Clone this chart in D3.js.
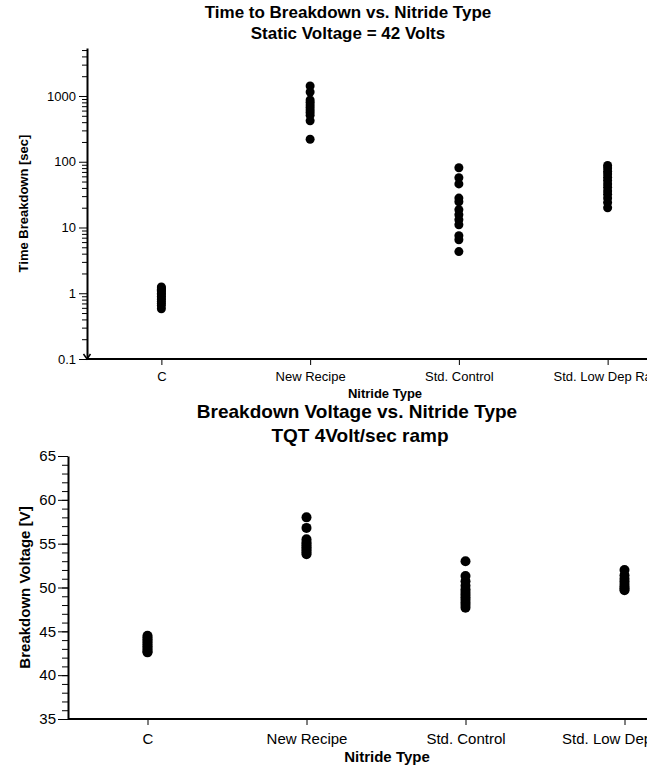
<!DOCTYPE html>
<html>
<head>
<meta charset="utf-8">
<script src="https://cdn.jsdelivr.net/npm/d3@7"></script>
<style>
    body { margin: 0; background: #fff; }
    svg { display: block; overflow: hidden; }
    text { font-family: "Liberation Sans", Arial, sans-serif; fill: #000; }
    .axis path { stroke: #000; stroke-width: 2; }
    .axis line { stroke: #000; stroke-width: 1; }
</style>
</head>
<body>
<div id="chart"></div>
<script>
// ── Data ──
const categories = ["C", "New Recipe", "Std. Control", "Std. Low Dep Rate"];

// Time to breakdown [sec], static 42 V
const timeC = [1.25, 1.2, 1.15, 1.1, 1.05, 1.0, 0.95, 0.9, 0.85, 0.8, 0.75, 0.7, 0.65, 0.58];
const timeNewRecipe = [1420, 1150, 870, 800, 730, 670, 610, 560, 510, 420, 220];
const timeStdControl = [81, 57, 46, 28, 24.6, 18.6, 15.6, 13.1, 11, 7.5, 6.5, 4.3];
const timeStdLowDep = [88, 80, 72, 65, 58, 52, 46, 41, 36, 32, 28, 24, 20];

// Breakdown voltage [V], TQT 4 V/sec ramp
const voltC = [44.5, 44.3, 44.1, 43.9, 43.7, 43.5, 43.3, 43.1, 42.9, 42.7, 42.6];
const voltNewRecipe = [58.0, 56.8, 55.5, 55.2, 55.0, 54.8, 54.6, 54.4, 54.2, 54.0, 53.8];
const voltStdControl = [53.0, 51.3, 50.7, 50.2, 49.8, 49.5, 49.2, 48.9, 48.6, 48.3, 48.0, 47.7];
const voltStdLowDep = [52.0, 51.4, 51.0, 50.7, 50.4, 50.1, 49.9, 49.7];

const timeMajorTicks = [0.1, 1, 10, 100, 1000];
const voltMajorTicks = [35, 40, 45, 50, 55, 60, 65];

const WIDTH = 647;
const HEIGHT = 765;

const svg = d3.select("#chart")
    .append("svg")
    .attr("width", WIDTH)
    .attr("height", HEIGHT);

svg.append("rect").attr("width", WIDTH).attr("height", HEIGHT).attr("fill", "#fff");

function toPoints(series) {
    return series.flatMap((vals, i) => vals.map(v => ({ cat: categories[i], v })));
}

// ── Top chart: time to breakdown (log scale) ──
const topBox = { left: 87, right: 682, top: 48, bottom: 359 };

const xTop = d3.scalePoint()
    .domain(categories)
    .range([topBox.left, topBox.right])
    .padding(0.5);

const yTop = d3.scaleLog()
    .domain([0.1, 5370])
    .range([topBox.bottom, topBox.top]);

// minor ticks 2..9 per decade, up to 5000
const timeMinor = [];
[0.1, 1, 10, 100, 1000].forEach(d => {
    for (let k = 2; k <= 9; k++) {
        const v = d * k;
        if (v <= 5000) timeMinor.push(v);
    }
});

svg.append("g")
    .attr("class", "axis")
    .attr("transform", `translate(${topBox.left},0)`)
    .call(d3.axisLeft(yTop).tickValues(timeMinor).tickSize(5).tickFormat(""))
    .call(g => g.select(".domain").remove());

svg.append("g")
    .attr("class", "axis")
    .attr("transform", `translate(${topBox.left},0)`)
    .call(d3.axisLeft(yTop).tickValues(timeMajorTicks).tickSize(8).tickSizeOuter(0).tickPadding(3)
        .tickFormat(d => d3.format("~g")(d)))
    .call(g => g.selectAll("text").style("font-size", "13px"));

svg.append("g")
    .attr("class", "axis")
    .attr("transform", `translate(0,${topBox.bottom})`)
    .call(d3.axisBottom(xTop).tickSize(6).tickSizeOuter(0).tickPadding(7))
    .call(g => g.select(".domain").attr("d", `M${topBox.left},0H${topBox.right}`))
    .call(g => g.selectAll("text").style("font-size", "13px"));

// small break marker at the bottom of the log axis
svg.append("path")
    .attr("d", `M${topBox.left - 3.5},${topBox.bottom - 5}L${topBox.left},${topBox.bottom}L${topBox.left + 3.5},${topBox.bottom - 5}`)
    .attr("fill", "none")
    .attr("stroke", "#000")
    .attr("stroke-width", 1.5);

svg.append("g")
    .selectAll("circle")
    .data(toPoints([timeC, timeNewRecipe, timeStdControl, timeStdLowDep]))
    .enter()
    .append("circle")
    .attr("cx", d => xTop(d.cat))
    .attr("cy", d => yTop(d.v))
    .attr("r", 4.5)
    .attr("fill", "#000");

svg.append("text")
    .attr("x", 348).attr("y", 18)
    .attr("text-anchor", "middle")
    .style("font-size", "17px").style("font-weight", "bold")
    .text("Time to Breakdown vs. Nitride Type");

svg.append("text")
    .attr("x", 348).attr("y", 39)
    .attr("text-anchor", "middle")
    .style("font-size", "17px").style("font-weight", "bold")
    .text("Static Voltage = 42 Volts");

svg.append("text")
    .attr("x", 385).attr("y", 398)
    .attr("text-anchor", "middle")
    .style("font-size", "13px").style("font-weight", "bold")
    .text("Nitride Type");

svg.append("text")
    .attr("transform", `translate(28,${(topBox.top + topBox.bottom) / 2}) rotate(-90)`)
    .attr("text-anchor", "middle")
    .style("font-size", "13px").style("font-weight", "bold")
    .text("Time Breakdown [sec]");

// ── Bottom chart: breakdown voltage (linear) ──
const botBox = { left: 68, right: 704, top: 456, bottom: 719 };

const xBot = d3.scalePoint()
    .domain(categories)
    .range([botBox.left, botBox.right])
    .padding(0.5);

const yBot = d3.scaleLinear()
    .domain([35, 65])
    .range([botBox.bottom, botBox.top]);

svg.append("g")
    .attr("class", "axis")
    .attr("transform", `translate(${botBox.left},0)`)
    .call(d3.axisLeft(yBot).tickValues(d3.range(35, 66, 1)).tickSize(6).tickFormat(""))
    .call(g => g.select(".domain").remove());

svg.append("g")
    .attr("class", "axis")
    .attr("transform", `translate(${botBox.left},0)`)
    .call(d3.axisLeft(yBot).tickValues(voltMajorTicks).tickSize(10).tickSizeOuter(0).tickPadding(2))
    .call(g => g.selectAll("text").style("font-size", "15px"));

svg.append("g")
    .attr("class", "axis")
    .attr("transform", `translate(0,${botBox.bottom})`)
    .call(d3.axisBottom(xBot).tickSize(6).tickSizeOuter(0).tickPadding(8))
    .call(g => g.select(".domain").attr("d", `M${botBox.left},0H${botBox.right}`))
    .call(g => g.selectAll("text").style("font-size", "15px"));

svg.append("g")
    .selectAll("circle")
    .data(toPoints([voltC, voltNewRecipe, voltStdControl, voltStdLowDep]))
    .enter()
    .append("circle")
    .attr("cx", d => xBot(d.cat))
    .attr("cy", d => yBot(d.v))
    .attr("r", 5)
    .attr("fill", "#000");

svg.append("text")
    .attr("x", 357).attr("y", 418)
    .attr("text-anchor", "middle")
    .style("font-size", "19px").style("font-weight", "bold")
    .text("Breakdown Voltage vs. Nitride Type");

svg.append("text")
    .attr("x", 360).attr("y", 442)
    .attr("text-anchor", "middle")
    .style("font-size", "19px").style("font-weight", "bold")
    .text("TQT 4Volt/sec ramp");

svg.append("text")
    .attr("x", 387).attr("y", 762)
    .attr("text-anchor", "middle")
    .style("font-size", "15px").style("font-weight", "bold")
    .text("Nitride Type");

svg.append("text")
    .attr("transform", `translate(30,${(botBox.top + botBox.bottom) / 2}) rotate(-90)`)
    .attr("text-anchor", "middle")
    .style("font-size", "15px").style("font-weight", "bold")
    .text("Breakdown Voltage [V]");
</script>
</body>
</html>
